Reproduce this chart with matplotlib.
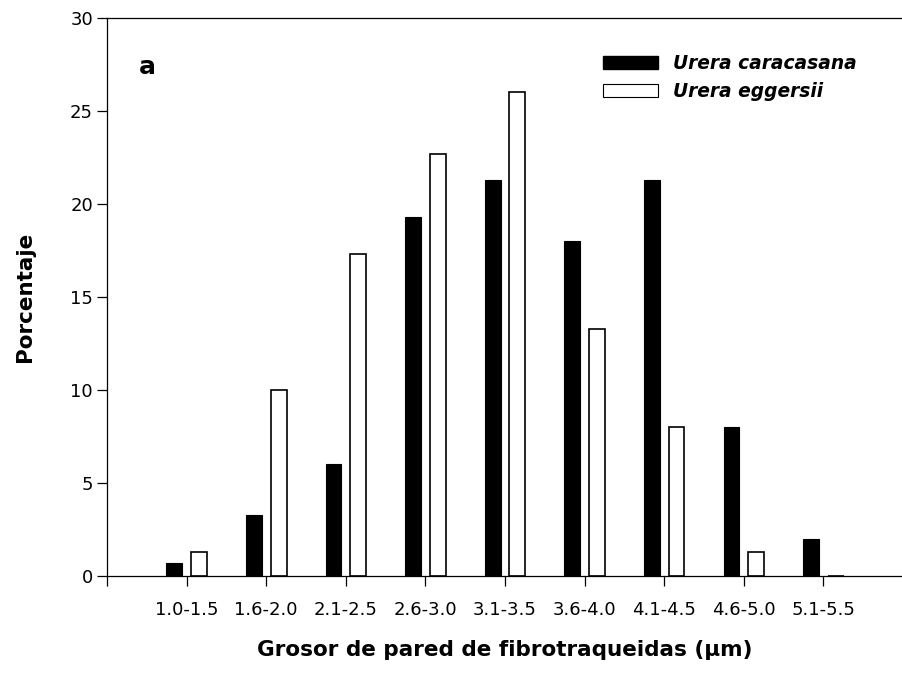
import numpy as np
import matplotlib.pyplot as plt
from matplotlib.patches import Patch

plt.rcParams['font.family'] = ['DejaVu Sans']

clases = ["1.0-1.5", "1.6-2.0", "2.1-2.5", "2.6-3.0", "3.1-3.5",
          "3.6-4.0", "4.1-4.5", "4.6-5.0", "5.1-5.5"]
# porcentajes (n = 150 en cada especie)
caracasana = [0.7, 3.3, 6.0, 19.3, 21.3, 18.0, 21.3, 8.0, 2.0]
eggersii = [1.3, 10.0, 17.3, 22.7, 26.0, 13.3, 8.0, 1.3, 0.0]

fig = plt.figure(figsize=(9.03, 6.8), dpi=100)
ax = fig.add_axes([0.1185, 0.153, 0.8815, 0.8205])

x = np.arange(len(clases))
ax.bar(x - 0.155, caracasana, width=0.2, color="black", edgecolor="black", linewidth=0.8)
ax.bar(x + 0.155, eggersii, width=0.2, color="white", edgecolor="black", linewidth=1.2)

ax.set_xlim(-1, 9.0)
ax.set_ylim(0, 30)
ax.set_yticks(range(0, 31, 5))
ax.set_xticks(np.arange(-1, 9))
ax.set_xticklabels([""] + clases)

ax.spines["right"].set_visible(False)
for s in ["left", "bottom", "top"]:
    ax.spines[s].set_linewidth(0.9)
ax.tick_params(axis="both", direction="out", length=7, width=0.9, labelsize=13)
ax.tick_params(axis="x", pad=11)
ax.tick_params(axis="y", pad=3)

ax.set_ylabel("Porcentaje", fontsize=15.5, fontweight="bold", labelpad=25)
ax.set_xlabel("Grosor de pared de fibrotraqueidas (\u03bcm)", fontsize=15.5,
              fontweight="bold", labelpad=15)

ax.text(0.051, 0.913, "a", transform=ax.transAxes, fontsize=18, fontweight="bold",
        va="center", ha="center")

handles = [Patch(facecolor="black", edgecolor="black"),
           Patch(facecolor="white", edgecolor="black", linewidth=0.8)]
leg = ax.legend(handles, ["Urera caracasana", "Urera eggersii"], loc="upper left",
                bbox_to_anchor=(0.619, 0.942), frameon=False, handlelength=2.95,
                handleheight=0.7, handletextpad=0.8, labelspacing=0.5,
                borderaxespad=0, borderpad=0.2,
                prop={"size": 13.4, "style": "oblique", "weight": "bold"})

fig.savefig("out.png", dpi=100)
